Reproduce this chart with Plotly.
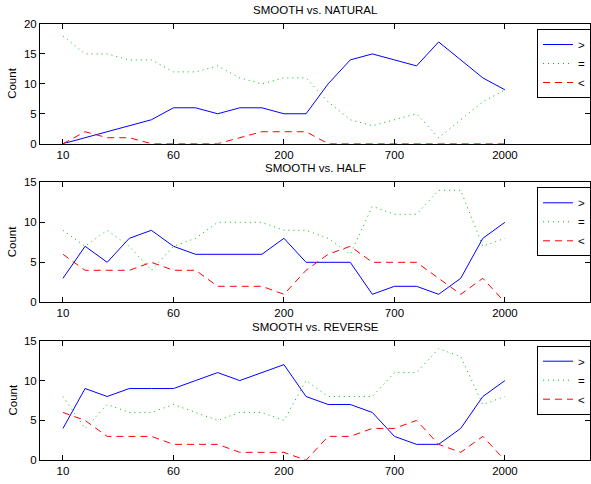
import plotly.graph_objects as go

x_idx = list(range(21))
tick_pos = [0, 5, 10, 15, 20]
tick_labels = ["10", "60", "200", "700", "2000"]

titles = ["SMOOTH vs. NATURAL", "SMOOTH vs. HALF", "SMOOTH vs. REVERSE"]
series_names = [">", "=", "<"]

natural_gt = [0, 1, 2, 3, 4, 6, 6, 5, 6, 6, 5, 5, 10, 14, 15, 14, 13, 17, 14, 11, 9]
natural_eq = [18, 15, 15, 14, 14, 12, 12, 13, 11, 10, 11, 11, 7, 4, 3, 4, 5, 1, 4, 7, 9]
natural_lt = [0, 2, 1, 1, 0, 0, 0, 0, 1, 2, 2, 2, 0, 0, 0, 0, 0, 0, 0, 0, 0]

half_gt = [3, 7, 5, 8, 9, 7, 6, 6, 6, 6, 8, 5, 5, 5, 1, 2, 2, 1, 3, 8, 10]
half_eq = [9, 7, 9, 7, 4, 7, 8, 10, 10, 10, 9, 9, 8, 6, 12, 11, 11, 14, 14, 7, 8]
half_lt = [6, 4, 4, 4, 5, 4, 4, 2, 2, 2, 1, 4, 6, 7, 5, 5, 5, 3, 1, 3, 0]

reverse_gt = [4, 9, 8, 9, 9, 9, 10, 11, 10, 11, 12, 8, 7, 7, 6, 3, 2, 2, 4, 8, 10]
reverse_eq = [8, 4, 7, 6, 6, 7, 6, 5, 6, 6, 5, 10, 8, 8, 8, 11, 11, 14, 13, 7, 8]
reverse_lt = [6, 5, 3, 3, 3, 2, 2, 2, 1, 1, 1, 0, 3, 3, 4, 4, 5, 2, 1, 3, 0]

panels = [
    (natural_gt, natural_eq, natural_lt, 20),
    (half_gt, half_eq, half_lt, 15),
    (reverse_gt, reverse_eq, reverse_lt, 15),
]

W, H = 591, 484
L, R = 40, 1
PW = W - L - R
# pixel extents of plot areas (top, bottom)
px = [(24, 143.7), (182.3, 302.3), (340.7, 460.3)]
styles = [
    dict(color="rgb(0,0,255)", dash="solid"),
    dict(color="rgb(0,185,0)", dash="1px,4px"),
    dict(color="rgb(255,0,0)", dash="7px,5px"),
]

FONT = "Liberation Sans, Arial, Helvetica, sans-serif"
FS = 11.5
fig = go.Figure()
layout = dict(
    width=W, height=H,
    margin=dict(l=L, r=R, t=0, b=0, autoexpand=False),
    paper_bgcolor="white", plot_bgcolor="white",
    font=dict(family=FONT, size=FS, color="black"),
    showlegend=True,
)
annotations = []
for i, (gt, eq, lt, ymax) in enumerate(panels):
    n = "" if i == 0 else str(i + 1)
    leg = "legend" if i == 0 else f"legend{i+1}"
    for name, vals, st in zip(series_names, (gt, eq, lt), styles):
        fig.add_trace(go.Scatter(
            x=x_idx, y=vals, mode="lines", name=name,
            line=dict(color=st["color"], dash=st["dash"], width=1),
            xaxis="x" + n, yaxis="y" + n, legend=leg, hoverinfo="skip",
        ))
    top, bot = px[i]
    dom = [1 - bot / H, 1 - top / H]
    layout["xaxis" + n] = dict(
        domain=[0, 1], anchor="y" + n, range=[-1.04, 23.85],
        tickmode="array", tickvals=tick_pos, ticktext=tick_labels,
        ticks="inside", ticklen=5, tickcolor="black", mirror="ticks",
        showline=True, linecolor="black", linewidth=1, showgrid=False, zeroline=False,
        tickfont=dict(size=FS, family=FONT), automargin=False,
    )
    layout["yaxis" + n] = dict(
        domain=dom, anchor="x" + n, range=[0, ymax], dtick=5,
        ticks="inside", ticklen=5, tickcolor="black", mirror="ticks",
        showline=True, linecolor="black", linewidth=1, showgrid=False, zeroline=False,
        tickfont=dict(size=FS, family=FONT), automargin=False,
    )
    layout[leg] = dict(
        x=(537 - L) / PW, xanchor="left", y=1 - (top + 5) / H, yanchor="top",
        bordercolor="black", borderwidth=1, bgcolor="white",
        font=dict(size=FS, family=FONT), itemwidth=30, tracegroupgap=0,
    )
    annotations.append(dict(
        text=titles[i], xref="paper", yref="paper", x=0.5, y=1 - (top - 14) / H,
        xanchor="center", yanchor="middle", showarrow=False,
        font=dict(size=FS, family=FONT),
    ))
    annotations.append(dict(
        text="Count", xref="paper", yref="paper", x=-28 / PW, y=1 - (top + bot) / 2 / H,
        xanchor="center", yanchor="middle", showarrow=False, textangle=-90,
        font=dict(size=FS, family=FONT),
    ))
layout["annotations"] = annotations
fig.update_layout(**layout)
fig.write_html(
    "out.html",
    config={"displayModeBar": False},
    post_script="document.body.style.margin='0';document.body.style.padding='0';"
                "document.body.style.overflow='hidden';",
)
